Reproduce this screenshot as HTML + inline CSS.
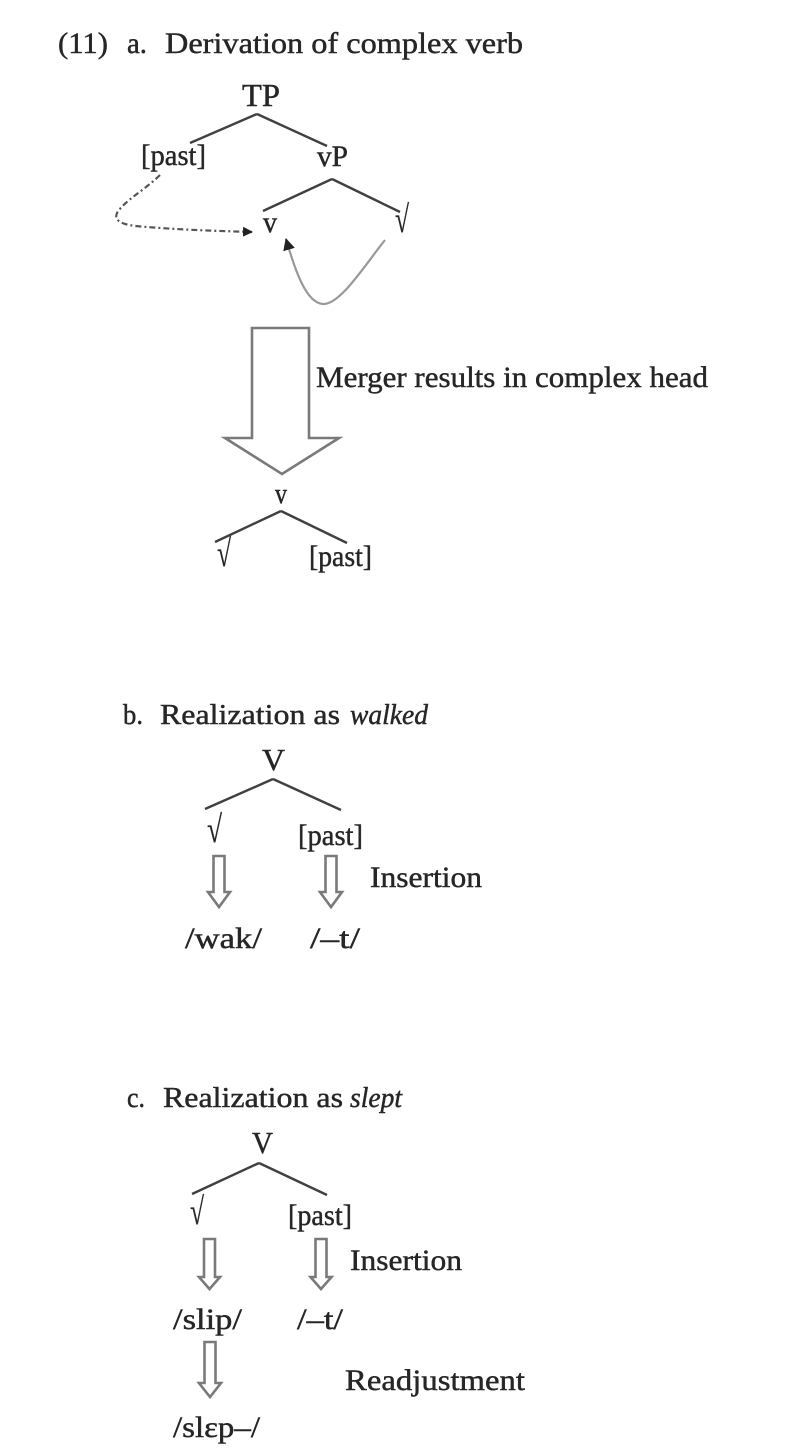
<!DOCTYPE html>
<html>
<head>
<meta charset="utf-8">
<style>
html,body{margin:0;padding:0;background:#fff;}
svg{display:block;}
text{font-family:"Liberation Serif","DejaVu Serif",serif;fill:#262626;stroke:#262626;stroke-width:0.45;}
.it{font-style:italic;}
.rt{stroke-width:0.3;}
.ln{stroke:#404040;stroke-width:2.4;fill:none;}
.ar{stroke:#7a7a7a;stroke-width:2.6;fill:#fff;stroke-linejoin:miter;}
</style>
</head>
<body>
<svg width="791" height="1450" viewBox="0 0 791 1450" xmlns="http://www.w3.org/2000/svg">
<defs>
<marker id="ah" markerWidth="10" markerHeight="10" refX="9" refY="5" orient="auto" markerUnits="userSpaceOnUse">
<path d="M0,0 L10,5 L0,10 Z" fill="#222"/>
</marker>
<marker id="ah2" markerWidth="12" markerHeight="12" refX="11" refY="6" orient="auto" markerUnits="userSpaceOnUse">
<path d="M0,0 L12,6 L0,12 Z" fill="#222"/>
</marker>
</defs>

<!-- Section a -->
<text x="58" y="53" font-size="30" textLength="50" lengthAdjust="spacingAndGlyphs">(11)</text>
<text x="127" y="53" font-size="30" textLength="20" lengthAdjust="spacingAndGlyphs">a.</text>
<text x="165" y="53" font-size="30" textLength="358" lengthAdjust="spacingAndGlyphs">Derivation of complex verb</text>

<text x="242" y="106" font-size="32" textLength="38" lengthAdjust="spacingAndGlyphs">TP</text>
<line class="ln" x1="257" y1="114" x2="190" y2="143"/>
<line class="ln" x1="257" y1="114" x2="327" y2="146"/>
<text x="141" y="165" font-size="30" textLength="65" lengthAdjust="spacingAndGlyphs">[past]</text>
<text x="317" y="166" font-size="30" textLength="31" lengthAdjust="spacingAndGlyphs">vP</text>
<line class="ln" x1="332" y1="179" x2="263" y2="211"/>
<line class="ln" x1="332" y1="179" x2="400" y2="212"/>
<text x="263" y="232" font-size="30" textLength="14" lengthAdjust="spacingAndGlyphs">v</text>
<text class="rt" x="395" y="232" font-size="38" textLength="14" lengthAdjust="spacingAndGlyphs">√</text>

<!-- dash-dot curve -->
<path d="M160,175 C145,190 125,200 117,213 C114,220 120,224 135,226 C180,230 220,231 252,232" stroke="#555" stroke-width="2.2" fill="none" stroke-dasharray="6 3 2 3" marker-end="url(#ah)"/>
<!-- solid gray curve -->
<path d="M385,240 C365,265 340,305 323,304 C306,303 295,270 286,239" stroke="#999" stroke-width="2.2" fill="none" marker-end="url(#ah2)"/>

<!-- big arrow -->
<polygon class="ar" points="252,328 309,328 309,438 339,438 282,474 225,438 252,438"/>
<text x="316" y="387" font-size="30" textLength="392" lengthAdjust="spacingAndGlyphs">Merger results in complex head</text>

<text x="275" y="503" font-size="28" textLength="12" lengthAdjust="spacingAndGlyphs">v</text>
<line class="ln" x1="281" y1="511" x2="215" y2="542"/>
<line class="ln" x1="281" y1="511" x2="347" y2="543"/>
<text class="rt" x="217" y="566" font-size="38" textLength="14" lengthAdjust="spacingAndGlyphs">√</text>
<text x="309" y="566" font-size="30" textLength="63" lengthAdjust="spacingAndGlyphs">[past]</text>

<!-- Section b -->
<text x="123" y="724" font-size="29" textLength="20" lengthAdjust="spacingAndGlyphs">b.</text>
<text x="160" y="724" font-size="29" textLength="180" lengthAdjust="spacingAndGlyphs">Realization as</text>
<text class="it" x="350" y="724" font-size="29" textLength="78" lengthAdjust="spacingAndGlyphs">walked</text>

<text x="262" y="770" font-size="31" textLength="23" lengthAdjust="spacingAndGlyphs">V</text>
<line class="ln" x1="273" y1="779" x2="205" y2="809"/>
<line class="ln" x1="273" y1="779" x2="341" y2="810"/>
<text class="rt" x="207" y="842" font-size="38" textLength="15" lengthAdjust="spacingAndGlyphs">√</text>
<text x="298" y="845" font-size="30" textLength="65" lengthAdjust="spacingAndGlyphs">[past]</text>

<polygon class="ar" points="213.5,856 224.5,856 224.5,892 230,892 219,907 208,892 213.5,892"/>
<polygon class="ar" points="325.5,856 336.5,856 336.5,892 342,892 331,907 320,892 325.5,892"/>
<text x="370" y="887" font-size="30" textLength="112" lengthAdjust="spacingAndGlyphs">Insertion</text>

<text x="185" y="948" font-size="30" textLength="77" lengthAdjust="spacingAndGlyphs">/wak/</text>
<text x="310" y="948" font-size="30" textLength="50" lengthAdjust="spacingAndGlyphs">/–t/</text>

<!-- Section c -->
<text x="127" y="1107" font-size="29" textLength="18" lengthAdjust="spacingAndGlyphs">c.</text>
<text x="163" y="1107" font-size="29" textLength="180" lengthAdjust="spacingAndGlyphs">Realization as</text>
<text class="it" x="350" y="1107" font-size="29" textLength="52" lengthAdjust="spacingAndGlyphs">slept</text>

<text x="252" y="1153" font-size="31" textLength="21" lengthAdjust="spacingAndGlyphs">V</text>
<line class="ln" x1="259" y1="1163" x2="192" y2="1194"/>
<line class="ln" x1="259" y1="1163" x2="327" y2="1195"/>
<text class="rt" x="190" y="1224" font-size="38" textLength="14" lengthAdjust="spacingAndGlyphs">√</text>
<text x="288" y="1225" font-size="30" textLength="64" lengthAdjust="spacingAndGlyphs">[past]</text>

<polygon class="ar" points="204,1239 215,1239 215,1277 220,1277 209.5,1289 199,1277 204,1277"/>
<polygon class="ar" points="315.5,1239 326.5,1239 326.5,1277 331.5,1277 321,1289 310.5,1277 315.5,1277"/>
<text x="350" y="1270" font-size="30" textLength="112" lengthAdjust="spacingAndGlyphs">Insertion</text>

<text x="173" y="1329" font-size="30" textLength="69" lengthAdjust="spacingAndGlyphs">/slip/</text>
<text x="297" y="1329" font-size="30" textLength="46" lengthAdjust="spacingAndGlyphs">/–t/</text>

<polygon class="ar" points="204.5,1342 215.5,1342 215.5,1383 221,1383 210,1397 199,1383 204.5,1383"/>
<text x="345" y="1390" font-size="30" textLength="180" lengthAdjust="spacingAndGlyphs">Readjustment</text>

<text x="173" y="1437" font-size="30" textLength="87" lengthAdjust="spacingAndGlyphs">/slɛp–/</text>
</svg>
</body>
</html>
